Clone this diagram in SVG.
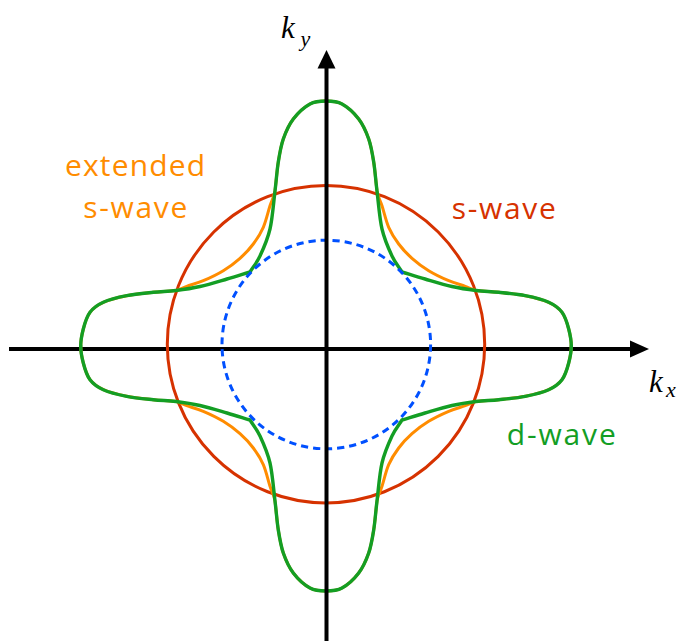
<svg xmlns="http://www.w3.org/2000/svg" xmlns:xlink="http://www.w3.org/1999/xlink" width="683" height="641" viewBox="0 0 683 641">
<style>
.axis{stroke:#000;stroke-width:4;fill:none}
.head{fill:#000;stroke:none}
.red{fill:none;stroke:#d63200;stroke-width:3}
.orange{fill:none;stroke:#ff8c00;stroke-width:3}
.green{fill:none;stroke:#139e24;stroke-width:3.4;stroke-linecap:round}
.blue{fill:none;stroke:#0050ff;stroke-width:3;stroke-dasharray:7.2 4.93}
.lbl{font-family:"Open Sans","Noto Sans",sans-serif;font-size:30px;text-anchor:middle}
.math{font-family:"Liberation Serif","DejaVu Serif",serif;font-style:italic}
</style>
<defs>
<path id="gq" d="M0,-245 C-5.33,-245 -10.55,-245 -16,-242 C-21.45,-239 -28.25,-232.83 -32.7,-227 C-37.15,-221.17 -40.2,-214.17 -42.7,-207 C-45.2,-199.83 -46.32,-192.67 -47.7,-184 C-49.08,-175.33 -49.62,-166.17 -51,-155 C-52.38,-143.83 -53.5,-127.83 -56,-117 C-58.5,-106.17 -62.67,-97.17 -66,-90 C-69.33,-82.83 -72.67,-79.33 -76,-74 C-83.67,-71.67 -90.67,-69.42 -99,-67 C-107.33,-64.58 -117.5,-61.42 -126,-59.5 C-134.5,-57.58 -142.22,-56.47 -150,-55.5 C-157.78,-54.53 -164.48,-54.57 -172.7,-53.7 C-180.92,-52.83 -190.97,-51.970 -199.3,-50.3 C-207.63,-48.63 -216.58,-46.47 -222.7,-43.7 C-228.82,-40.93 -232.67,-38.15 -236,-33.7 C-239.33,-29.25 -241.15,-22.95 -242.7,-17 C-244.25,-11.05 -245.3,-6 -245.3,0"/>
<path id="oq" d="M0,-245 C-5.33,-245 -10.55,-245 -16,-242 C-21.45,-239 -28.25,-232.83 -32.7,-227 C-37.15,-221.17 -40.2,-214.17 -42.7,-207 C-45.2,-199.83 -46.32,-192.67 -47.7,-184 C-49.08,-175.33 -49.62,-166.17 -51,-155 C-52.38,-147.72 -54.05,-146.35 -56,-140.3 C-57.95,-134.25 -59.92,-125.08 -62.7,-118.7 C-65.48,-112.32 -68.82,-107.17 -72.7,-102 C-76.58,-96.83 -81,-92.15 -86,-87.7 C-91,-83.25 -96.58,-79.03 -102.7,-75.3 C-108.82,-71.57 -116.6,-67.9 -122.7,-65.3 C-128.8,-62.7 -134.75,-61.33 -139.3,-59.7 C-143.85,-58.07 -144.43,-56.5 -150,-55.5 C-157.78,-54.53 -164.48,-54.57 -172.7,-53.7 C-180.92,-52.83 -190.97,-51.97 -199.3,-50.3 C-207.63,-48.63 -216.58,-46.47 -222.7,-43.7 C-228.82,-40.93 -232.67,-38.15 -236,-33.7 C-239.33,-29.25 -241.15,-22.95 -242.7,-17 C-244.25,-11.05 -245.3,-6 -245.3,0"/>
</defs>
<g id="kx-axis">
<line class="axis" x1="9" y1="349" x2="632" y2="349"/>
<polygon class="head" points="649,349 630,340.5 630,357.5"/>
</g>
<g id="s-wave-curve">
<circle class="red" cx="326" cy="344.2" r="158.7"/>
</g>
<g id="extended-s-wave-curve" class="orange" transform="translate(326,346)">
<use xlink:href="#oq"/>
<use xlink:href="#oq" transform="scale(-1,1)"/>
<use xlink:href="#oq" transform="scale(1,-1)"/>
<use xlink:href="#oq" transform="scale(-1,-1)"/>
</g>
<g id="d-wave-curve" class="green" transform="translate(326,346)">
<use xlink:href="#gq"/>
<use xlink:href="#gq" transform="scale(-1,1)"/>
<use xlink:href="#gq" transform="scale(1,-1)"/>
<use xlink:href="#gq" transform="scale(-1,-1)"/>
</g>
<g id="fermi-surface">
<circle class="blue" cx="326.3" cy="344.5" r="104.3"/>
</g>
<g id="ky-axis">
<line class="axis" x1="326.5" y1="641" x2="326.5" y2="66"/>
<polygon class="head" points="326.5,50 317.5,68.5 335.5,68.5"/>
</g>
<g id="labels">
<text class="lbl" x="135" y="176" fill="#ff8c00" textLength="140" lengthAdjust="spacing">extended</text>
<text class="lbl" x="135.3" y="218.3" fill="#ff8c00" textLength="104" lengthAdjust="spacing">s-wave</text>
<text class="lbl" x="503.8" y="219.3" fill="#d63200" textLength="104" lengthAdjust="spacing">s-wave</text>
<text class="lbl" x="561.3" y="445" fill="#139e24" textLength="109" lengthAdjust="spacing">d-wave</text>
<text class="math" x="281" y="38" font-size="31">k<tspan x="300.5" y="45.5" font-size="22">y</tspan></text>
<text class="math" x="649" y="391.5" font-size="31">k<tspan x="666" y="396.5" font-size="22">x</tspan></text>
</g>
</svg>
